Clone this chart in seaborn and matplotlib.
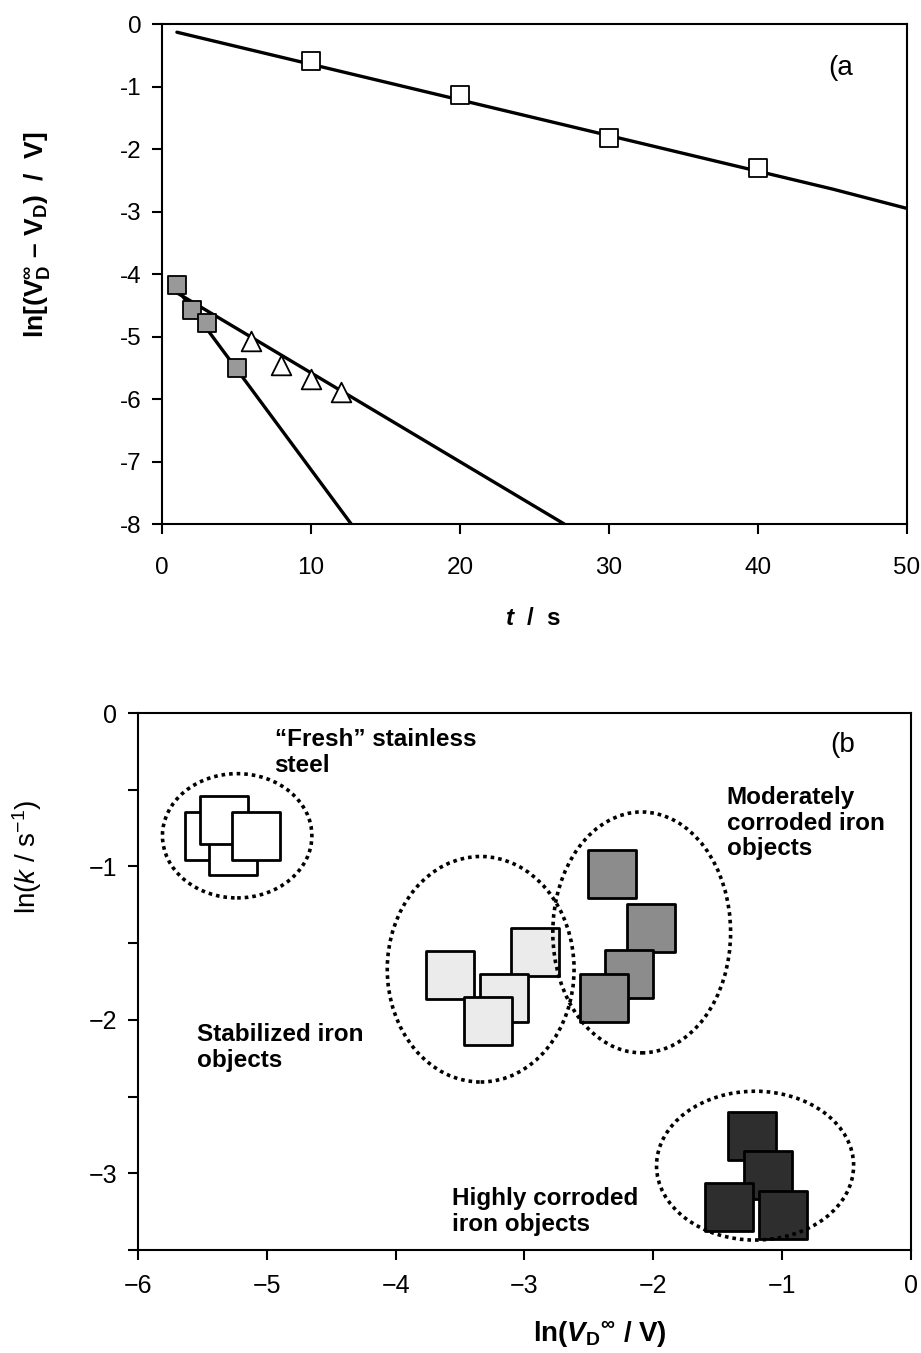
import numpy as np
import pandas as pd
import matplotlib
matplotlib.use('Agg')
import matplotlib.pyplot as plt
from matplotlib.patches import Ellipse
import seaborn as sns

# ---- panel (a): ln[(VD_inf - VD)/V] vs t ----
t_open = [10, 20, 30, 40]
y_open = [-0.59, -1.14, -1.83, -2.30]
t_grey = [1, 2, 3, 5]
y_grey = [-4.17, -4.57, -4.79, -5.50]
t_tri = [6, 8, 10, 12]
y_tri = [-5.07, -5.45, -5.68, -5.88]

# fitted lines (end points)
fit1_t = [1, 45, 50]
fit1_y = [-0.13, -2.64, -2.95]
fit2_t = [1, 12.7]
fit2_y = [-4.23, -8.0]
fit3_t = [1, 27.0]
fit3_y = [-4.30, -8.0]

# ---- panel (b): ln(k) vs ln(VD_inf) ----
fresh_x = [-5.45, -5.26, -5.33, -5.08]
fresh_y = [-0.80, -0.90, -0.70, -0.80]
stab_x = [-3.58, -2.92, -3.16, -3.28]
stab_y = [-1.71, -1.56, -1.86, -2.01]
mod_x = [-2.32, -2.02, -2.19, -2.38]
mod_y = [-1.05, -1.40, -1.70, -1.86]
high_x = [-1.23, -1.11, -1.41, -0.99]
high_y = [-2.76, -3.01, -3.22, -3.27]

group_colors = ['white', '#ebebeb', '#8c8c8c', '#2e2e2e']

ell_cx = [-5.23, -3.34, -2.09, -1.21]
ell_cy = [-0.80, -1.67, -1.43, -2.95]
ell_w = [1.16, 1.45, 1.38, 1.53]
ell_h = [0.81, 1.47, 1.57, 0.97]

labels_b = ['“Fresh” stainless\nsteel', 'Stabilized iron\nobjects',
            'Moderately\ncorroded iron\nobjects', 'Highly corroded\niron objects']
lab_x = [-4.94, -5.54, -1.43, -3.56]
lab_y = [-0.10, -2.02, -0.475, -3.09]

sns.set_theme(style='ticks')
plt.rcParams['font.family'] = ['Liberation Sans', 'DejaVu Sans']
plt.rcParams['mathtext.fontset'] = 'custom'
plt.rcParams['mathtext.rm'] = 'Liberation Sans'
plt.rcParams['mathtext.it'] = 'Liberation Sans:italic'
plt.rcParams['mathtext.bf'] = 'Liberation Sans:bold'
plt.rcParams['mathtext.bfit'] = 'Liberation Sans:italic:bold'
plt.rcParams['axes.linewidth'] = 1.5
for k in ['text.color', 'axes.labelcolor', 'xtick.color', 'ytick.color', 'axes.edgecolor']:
    plt.rcParams[k] = 'black'

fig = plt.figure(figsize=(9.21, 13.53), dpi=100)
ax1 = fig.add_axes([0.1759, 0.6127, 0.8089, 0.3695])
ax2 = fig.add_axes([0.1498, 0.0761, 0.8393, 0.3969])

# %% panel a
for ft, fy in [(fit1_t, fit1_y), (fit2_t, fit2_y), (fit3_t, fit3_y)]:
    sns.lineplot(x=ft, y=fy, ax=ax1, color='black', lw=2.4, sort=False,
                 estimator=None, legend=False)
sns.scatterplot(x=t_open, y=y_open, ax=ax1, marker='s', s=165,
                facecolor='white', edgecolor='black', linewidth=1.3, zorder=3)
sns.scatterplot(x=t_grey, y=y_grey, ax=ax1, marker='s', s=155,
                facecolor='#999999', edgecolor='black', linewidth=1.3, zorder=3)
sns.scatterplot(x=t_tri, y=y_tri, ax=ax1, marker='^', s=200,
                facecolor='white', edgecolor='black', linewidth=1.3, zorder=3)

ax1.set_xlim(0, 50)
ax1.set_ylim(-8, 0)
xt = [0, 10, 20, 30, 40, 50]
yt = [0, -1, -2, -3, -4, -5, -6, -7, -8]
ax1.set_xticks(xt, labels=[str(v) for v in xt])
ax1.set_yticks(yt, labels=[str(v) for v in yt])
ax1.tick_params(direction='out', length=7, width=1.5, labelsize=17.5)
ax1.tick_params(axis='x', pad=17)
ax1.tick_params(axis='y', pad=8)
ax1.set_xlabel(r'$\mathbfit{t}$  /  s', fontsize=17.5, fontweight='bold')
ax1.set_ylabel(r'ln[($\mathbf{V}_\mathbf{D}^\mathbf{∞}$ – $\mathbf{V}_\mathbf{D}$)  /  V]',
               fontsize=19, fontweight='bold')
ax1.xaxis.set_label_coords(0.498, -0.165)
ax1.yaxis.set_label_coords(-0.148, 0.578)
ax1.text(44.7, -0.70, '(a', fontsize=20, ha='left', va='center')
for s in ax1.spines.values():
    s.set_visible(True)

# %% panel b
groups = [(fresh_x, fresh_y), (stab_x, stab_y), (mod_x, mod_y), (high_x, high_y)]
for (gx, gy), c in zip(groups, group_colors):
    for xi, yi in zip(gx, gy):
        sns.scatterplot(x=[xi], y=[yi], ax=ax2, marker='s', s=1180,
                        facecolor=c, edgecolor='black', linewidth=2.0, zorder=3)

for cx, cy, w, h in zip(ell_cx, ell_cy, ell_w, ell_h):
    ax2.add_patch(Ellipse((cx, cy), w, h, fill=False, edgecolor='black',
                          lw=2.6, linestyle=(0, (1, 1.1)), zorder=4))

for txt, lx, ly in zip(labels_b, lab_x, lab_y):
    ax2.text(lx, ly, txt, fontsize=17.5, fontweight='bold', ha='left', va='top',
             linespacing=1.15)
ax2.text(-0.63, -0.21, '(b', fontsize=20, ha='left', va='center')

ax2.set_xlim(-6, 0)
ax2.set_ylim(-3.5, 0)
xt2 = list(range(-6, 1))
ax2.set_xticks(xt2, labels=['−%d' % abs(v) if v != 0 else '0' for v in xt2])
yt2 = [0, -0.5, -1, -1.5, -2, -2.5, -3, -3.5]
ylab2 = ['0', '', '−1', '', '−2', '', '−3', '']
ax2.set_yticks(yt2, labels=ylab2)
ax2.tick_params(direction='out', length=7, width=1.5, labelsize=18)
ax2.tick_params(axis='x', pad=10)
ax2.tick_params(axis='y', pad=8)
ax2.set_xlabel(r'ln($\mathbfit{V}_\mathbf{D}{}^\mathbf{∞}$ / V)', fontsize=20, fontweight='bold')
ax2.set_ylabel(r'ln($\mathit{k}$ / s$^{\mathrm{−1}}$)', fontsize=20)
ax2.xaxis.set_label_coords(0.598, -0.13)
ax2.yaxis.set_label_coords(-0.122, 0.732)
for s in ax2.spines.values():
    s.set_visible(True)

fig.savefig('out.png', dpi=100)
